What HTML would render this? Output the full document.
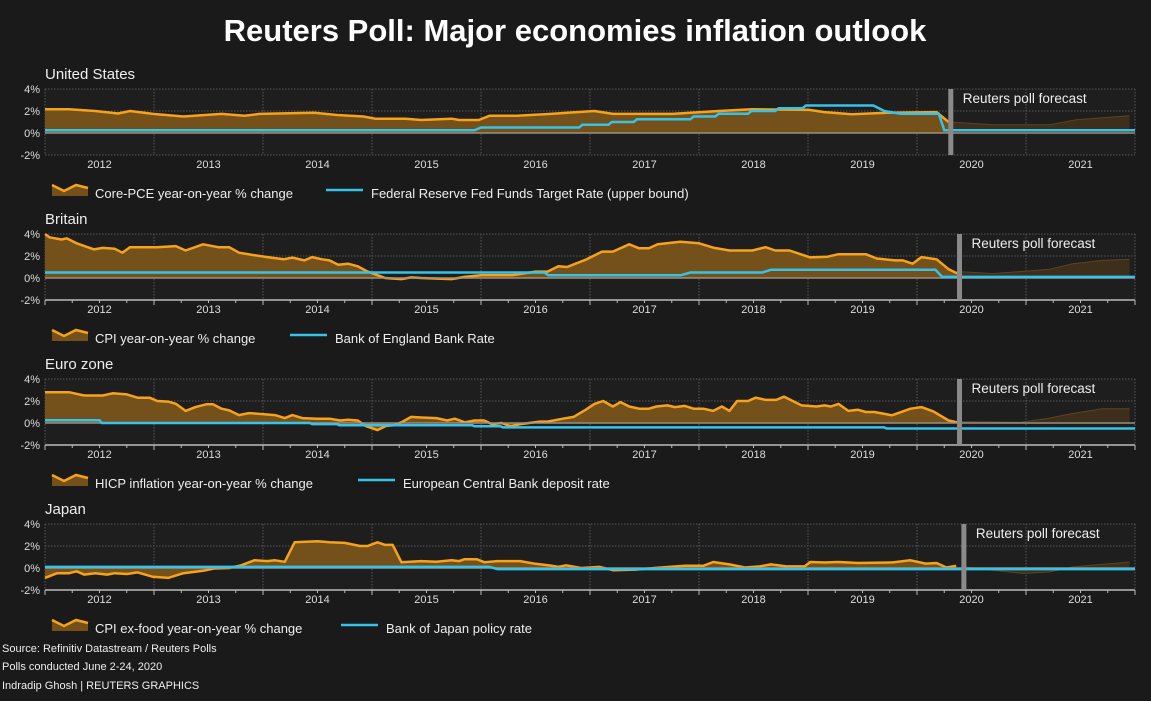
<!DOCTYPE html>
<html><head><meta charset="utf-8">
<style>
html,body{margin:0;padding:0;background:#1a1a1a;}
body{width:1151px;height:696px;overflow:hidden;font-family:"Liberation Sans",sans-serif;}
svg text{font-family:"Liberation Sans",sans-serif;}
</style></head>
<body>
<svg id="chart" width="1151" height="696" viewBox="0 0 1151 696">
<rect width="1151" height="696" fill="#1a1a1a"/>
<text x="575" y="41" text-anchor="middle" fill="#fff" font-size="31" font-weight="bold">Reuters Poll: Major economies inflation outlook</text>
<text x="2" y="652" fill="#eee" font-size="11">Source: Refinitiv Datastream / Reuters Polls</text>
<text x="2" y="670" fill="#eee" font-size="11">Polls conducted June 2-24, 2020</text>
<text x="2" y="689" fill="#eee" font-size="11">Indradip Ghosh | REUTERS GRAPHICS</text>
</svg>
<script>
const yearLabels=[2012,2013,2014,2015,2016,2017,2018,2019,2020,2021];
const yTicks=[4,2,0,-2];
const usNames=["United States","Core-PCE year-on-year % change","Federal Reserve Fed Funds Target Rate (upper bound)"];
const ukNames=["Britain","CPI year-on-year % change","Bank of England Bank Rate"];
const ezNames=["Euro zone","HICP inflation year-on-year % change","European Central Bank deposit rate"];
const jpNames=["Japan","CPI ex-food year-on-year % change","Bank of Japan policy rate"];

const usInfl=[[2011.5,2.16],[2011.72,2.16],[2011.96,2.0],[2012.17,1.77],[2012.28,2.0],[2012.49,1.74],[2012.77,1.5],[2013.12,1.74],[2013.33,1.57],[2013.47,1.74],[2013.97,1.84],[2014.18,1.64],[2014.42,1.5],[2014.53,1.3],[2014.81,1.3],[2014.95,1.18],[2015.23,1.3],[2015.3,1.18],[2015.48,1.18],[2015.58,1.57],[2015.83,1.57],[2016.14,1.74],[2016.54,2.0],[2016.71,1.74],[2017.26,1.74],[2017.68,2.0],[2017.99,2.16],[2018.51,2.1],[2018.65,1.9],[2018.9,1.7],[2019.23,1.84],[2019.68,1.9],[2019.79,1.0]];
const usFcst=[[2019.81,1.0],[2020.2,0.75],[2020.72,0.75],[2020.96,1.2],[2021.45,1.57]];
const usRate=[[2011.5,.25],[2015.44,.25],[2015.5,.5],[2016.4,.5],[2016.43,.75],[2016.67,.75],[2016.7,1.0],[2016.9,1.0],[2016.93,1.25],[2017.42,1.25],[2017.45,1.5],[2017.65,1.5],[2017.68,1.75],[2017.95,1.75],[2017.98,2.0],[2018.2,2.0],[2018.23,2.25],[2018.45,2.25],[2018.48,2.5],[2019.1,2.5],[2019.2,2.0],[2019.35,1.75],[2019.7,1.75],[2019.75,0.25],[2021.5,0.25]];
const usMark=2019.81;

const ukInfl=[[2011.5,4.0],[2011.54,3.7],[2011.65,3.5],[2011.7,3.6],[2011.79,3.15],[2011.95,2.6],[2012.03,2.74],[2012.14,2.65],[2012.21,2.3],[2012.28,2.8],[2012.53,2.8],[2012.7,2.9],[2012.79,2.5],[2012.95,3.06],[2013.09,2.8],[2013.19,2.8],[2013.28,2.3],[2013.4,2.1],[2013.54,1.9],[2013.69,1.7],[2013.77,1.85],[2013.88,1.6],[2013.95,1.9],[2014.04,1.7],[2014.11,1.6],[2014.19,1.2],[2014.28,1.3],[2014.37,1.06],[2014.46,0.58],[2014.62,0],[2014.77,-0.1],[2014.86,0.05],[2014.95,0],[2015.23,-0.1],[2015.35,0.1],[2015.51,0.26],[2015.79,0.26],[2016.0,0.58],[2016.11,0.58],[2016.21,1.06],[2016.29,1.0],[2016.47,1.7],[2016.61,2.4],[2016.71,2.4],[2016.86,3.06],[2016.95,2.7],[2017.04,2.7],[2017.12,3.06],[2017.33,3.3],[2017.5,3.15],[2017.64,2.74],[2017.78,2.5],[2017.99,2.5],[2018.11,2.8],[2018.2,2.5],[2018.33,2.5],[2018.52,1.87],[2018.68,1.94],[2018.78,2.16],[2019.03,2.16],[2019.13,1.77],[2019.3,1.6],[2019.37,1.6],[2019.46,1.3],[2019.54,1.9],[2019.68,1.7],[2019.79,0.8],[2019.87,0.42]];
const ukFcst=[[2019.89,0.58],[2020.2,0.4],[2020.72,0.8],[2020.93,1.3],[2021.2,1.6],[2021.45,1.7]];
const ukRate=[[2011.5,.5],[2016.08,.5],[2016.12,.25],[2017.33,.25],[2017.42,.5],[2018.08,.5],[2018.16,.75],[2019.67,.75],[2019.73,.1],[2021.5,.1]];
const ukMark=2019.89;

const ezInfl=[[2011.5,2.8],[2011.72,2.8],[2011.86,2.5],[2012.03,2.5],[2012.12,2.7],[2012.25,2.6],[2012.35,2.3],[2012.46,2.3],[2012.53,2.0],[2012.63,1.95],[2012.7,1.75],[2012.79,1.1],[2012.88,1.45],[2012.98,1.7],[2013.04,1.7],[2013.12,1.3],[2013.19,1.15],[2013.28,0.72],[2013.37,0.9],[2013.51,0.8],[2013.61,0.72],[2013.7,0.45],[2013.77,0.72],[2013.86,0.45],[2014.0,0.39],[2014.11,0.39],[2014.21,0.23],[2014.28,0.3],[2014.37,0.23],[2014.44,-0.26],[2014.55,-0.65],[2014.63,-0.26],[2014.7,-0.2],[2014.77,0.06],[2014.86,0.55],[2014.95,0.5],[2015.09,0.45],[2015.19,0.23],[2015.26,0.39],[2015.35,0.06],[2015.44,0.23],[2015.53,0.23],[2015.6,-0.1],[2015.69,0],[2015.77,-0.3],[2015.86,-0.1],[2016.04,0.13],[2016.11,0.13],[2016.25,0.39],[2016.35,0.55],[2016.46,1.2],[2016.54,1.74],[2016.62,2.0],[2016.71,1.5],[2016.78,1.9],[2016.86,1.5],[2016.95,1.3],[2017.04,1.3],[2017.11,1.5],[2017.21,1.6],[2017.28,1.45],[2017.37,1.55],[2017.45,1.3],[2017.54,1.3],[2017.63,1.1],[2017.71,1.5],[2017.78,1.1],[2017.85,2.0],[2017.95,2.0],[2018.02,2.3],[2018.11,2.1],[2018.21,2.1],[2018.28,2.4],[2018.44,1.6],[2018.58,1.5],[2018.65,1.6],[2018.71,1.5],[2018.78,1.74],[2018.87,1.1],[2018.96,1.2],[2019.03,1.0],[2019.11,1.0],[2019.27,0.7],[2019.44,1.3],[2019.54,1.45],[2019.65,1.05],[2019.79,0.23],[2019.87,0.06]];
const ezFcst=[[2019.89,0.13],[2020.45,0.06],[2020.69,0.4],[2020.93,0.87],[2021.2,1.3],[2021.45,1.3]];
const ezRate=[[2011.5,.25],[2012.0,.25],[2012.02,0],[2013.93,0],[2013.95,-0.1],[2014.18,-0.1],[2014.2,-0.2],[2015.42,-0.2],[2015.44,-0.3],[2015.68,-0.3],[2015.7,-0.4],[2019.2,-0.4],[2019.22,-0.5],[2021.5,-0.5]];
const ezMark=2019.89;

const jpInfl=[[2011.5,-0.9],[2011.61,-0.47],[2011.72,-0.47],[2011.79,-0.3],[2011.86,-0.6],[2011.96,-0.47],[2012.07,-0.6],[2012.14,-0.47],[2012.25,-0.55],[2012.35,-0.4],[2012.49,-0.8],[2012.63,-0.9],[2012.77,-0.47],[2012.95,-0.25],[2013.05,-0.05],[2013.19,0],[2013.3,0.25],[2013.42,0.7],[2013.54,0.63],[2013.61,0.7],[2013.7,0.56],[2013.79,2.34],[2014.0,2.44],[2014.11,2.34],[2014.25,2.28],[2014.39,2.0],[2014.46,2.0],[2014.55,2.34],[2014.62,2.1],[2014.69,2.1],[2014.77,0.53],[2014.95,0.63],[2015.09,0.56],[2015.23,0.7],[2015.3,0.63],[2015.35,0.8],[2015.46,0.8],[2015.53,0.53],[2015.65,0.63],[2015.86,0.63],[2016.0,0.38],[2016.14,0.22],[2016.21,0.1],[2016.28,0.25],[2016.42,0],[2016.59,0.1],[2016.71,-0.2],[2016.92,-0.15],[2017.09,0],[2017.37,0.2],[2017.54,0.2],[2017.63,0.55],[2017.78,0.33],[2017.92,0.05],[2018.06,0.15],[2018.16,0.33],[2018.3,0.15],[2018.47,0.15],[2018.52,0.55],[2018.65,0.5],[2018.78,0.55],[2018.96,0.45],[2019.27,0.5],[2019.44,0.7],[2019.58,0.4],[2019.68,0.45],[2019.77,0.05],[2019.86,0.2]];
const jpFcst=[[2019.93,0.1],[2020.2,-0.2],[2020.48,-0.5],[2020.72,-0.35],[2020.93,0.1],[2021.45,0.55]];
const jpRate=[[2011.5,.1],[2015.58,.1],[2015.65,-0.1],[2021.5,-0.1]];
const jpMark=2019.93;

const NS="http://www.w3.org/2000/svg";
const svg=document.getElementById('chart');
const X0=45,X1=1135,T0=2011.5,T1=2021.5;
function xs(t){return X0+(t-T0)/(T1-T0)*(X1-X0);}
function mk(tag,attrs,parent){const e=document.createElementNS(NS,tag);for(const k in attrs)e.setAttribute(k,attrs[k]);(parent||svg).appendChild(e);return e;}

function panel(key,top,names,infl,fcst,rate,mark,lg,dottedBottom){
  const g=mk('g',{});
  
  
  const H=66;
  function ys(v){return top+(4-v)/6*H;}
  const bg=mk('rect',{x:X0,y:top,width:X1-X0,height:H,fill:'#1e1e1e'},g);
  
  
  const ttl=mk('text',{x:45,y:top-10,fill:'#eee','font-size':15},g);ttl.textContent=names[0];
  
  
  yTicks.forEach(v=>{
    if(v!==-2||dottedBottom){mk('line',{x1:X0,x2:X1,y1:ys(v),y2:ys(v),stroke:'#555','stroke-dasharray':'1.5,1.5'},g);}
    const t=mk('text',{x:40,y:ys(v)+4,'text-anchor':'end',fill:'#ddd','font-size':11},g);t.textContent=v+'%';
    
    
  });
  for(let t=T0;t<=T1+0.001;t+=1){mk('line',{x1:xs(t),x2:xs(t),y1:top,y2:top+H,stroke:'#555','stroke-dasharray':'1.5,1.5'},g);}
  if(!dottedBottom){
    mk('line',{x1:X0,x2:X1,y1:ys(-2),y2:ys(-2),stroke:'#bbb','stroke-width':1.5},g);
    for(let t=T0;t<=T1+0.001;t+=0.25){const big=Math.abs((t-T0)%1)<0.01;mk('line',{x1:xs(t),x2:xs(t),y1:ys(-2),y2:ys(-2)+(big?5:3),stroke:'#bbb'},g);}
  }
  yearLabels.forEach(y=>{const t=mk('text',{x:xs(y),y:top+H+13,'text-anchor':'middle',fill:'#ddd','font-size':11},g);t.textContent=y;
    
    });
  function area(data,fill,stroke,sw,name){
    let d='M'+xs(data[0][0])+','+ys(0);
    data.forEach(p=>{d+=' L'+xs(p[0]).toFixed(1)+','+ys(p[1]).toFixed(1);});
    d+=' L'+xs(data[data.length-1][0])+','+ys(0)+'Z';
    const a=mk('path',{d:d,fill:fill},g);
    
    
    const l=mk('path',{d:'M'+data.map(p=>xs(p[0]).toFixed(1)+','+ys(p[1]).toFixed(1)).join(' L'),fill:'none',stroke:stroke,'stroke-width':sw,'stroke-linejoin':'round'},g);
    
    
  }
  area(infl,'#74501a','#f7a21b',2.5,key+'-inflation');
  area(fcst,'#3d2f1c','#5c4322',1,key+'-forecast');
  mk('line',{x1:X0,x2:X1,y1:ys(0),y2:ys(0),stroke:'#9a8f80','stroke-width':1.5},g);
  const r=mk('path',{d:'M'+rate.map(p=>xs(p[0]).toFixed(1)+','+ys(p[1]).toFixed(1)).join(' L'),fill:'none',stroke:'#35c3ea','stroke-width':2.5},g);
  
  
  const mb=mk('rect',{x:xs(mark)-2.5,y:top,width:5,height:H,fill:'#8a8a8a'},g);
  
  
  const ft=mk('text',{x:xs(mark)+12,y:top+14,fill:'#eee','font-size':13.5},g);ft.textContent='Reuters poll forecast';
  
  
  const ly=top+105;
  const lgA=mk('g',{},g);
  
  
  mk('path',{d:`M52,${ly-9} L64,${ly-3} L76,${ly-9} L88,${ly-6} L88,${ly+2} L52,${ly+2}Z`,fill:'#74501a'},lgA);
  mk('path',{d:`M52,${ly-9} L64,${ly-3} L76,${ly-9} L88,${ly-6}`,fill:'none',stroke:'#f7a21b','stroke-width':2.5},lgA);
  const t1=mk('text',{x:95,y:ly+4,fill:'#eee','font-size':13},lgA);t1.textContent=names[1];
  const lgB=mk('g',{},g);
  
  
  mk('line',{x1:lg,x2:lg+37,y1:ly-4,y2:ly-4,stroke:'#35c3ea','stroke-width':2.5},lgB);
  const t2=mk('text',{x:lg+45,y:ly+4,fill:'#eee','font-size':13},lgB);t2.textContent=names[2];
}
panel('us',89,usNames,usInfl,usFcst,usRate,usMark,326,true);
panel('uk',234,ukNames,ukInfl,ukFcst,ukRate,ukMark,290,false);
panel('ez',379,ezNames,ezInfl,ezFcst,ezRate,ezMark,358,false);
panel('jp',524,jpNames,jpInfl,jpFcst,jpRate,jpMark,341,false);
</script>
</body></html>
